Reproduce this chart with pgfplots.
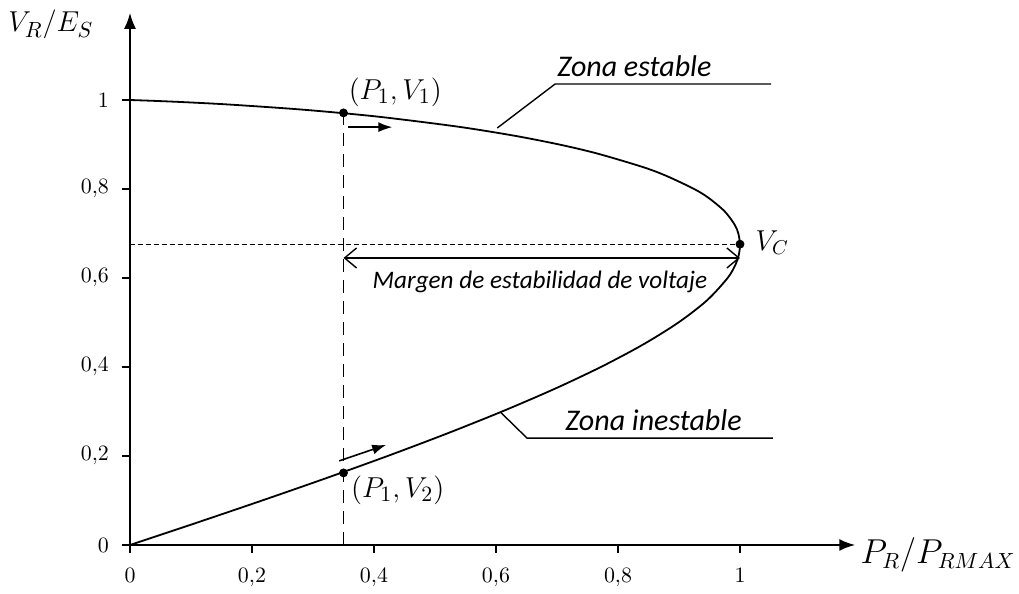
\documentclass[border=0pt]{standalone}
\usepackage{pgfplots}
\pgfplotsset{compat=1.18}
\usepackage{fontspec}
\setmainfont{Carlito}
\usetikzlibrary{arrows.meta}
\pgfplotstableread{
p V
0 0
0.1093 0.05
0.2166 0.10
0.3212 0.15
0.4223 0.20
0.5188 0.25
0.6099 0.30
0.6947 0.35
0.7719 0.40
0.8405 0.45
0.8991 0.50
0.9461 0.55
0.9797 0.60
0.9926 0.63
0.9977 0.65
1.0000 0.674
0.9973 0.70
0.9912 0.72
0.9747 0.75
0.9485 0.78
0.9248 0.80
0.8784 0.83
0.8392 0.85
0.7652 0.88
0.7035 0.90
0.6290 0.92
0.5379 0.94
0.4229 0.96
0.3521 0.97
0.2674 0.98
0.1601 0.99
0.0911 0.995
0.0404 0.998
0 1.0
}\curve
\begin{document}
\begin{tikzpicture}
\begin{axis}[
  x=305pt, y=222.5pt,
  xmin=0, xmax=1.189, ymin=0, ymax=1.196,
  axis lines=left,
  axis line style={line width=1pt, -{Latex[length=8pt,width=6pt]}},
  xtick={0,0.2,0.4,0.6,0.8,1},
  ytick={0,0.2,0.4,0.6,0.8,1},
  tick align=outside,
  major tick length=4pt,
  tick style={line width=1.3pt, black},
  xticklabel style={font=\fontsize{11}{12}\selectfont, yshift=-4pt},
  yticklabel style={font=\fontsize{11}{12}\selectfont, xshift=-3pt},
  /pgf/number format/use comma,
  clip=false,
]
\addplot[black, line width=0.9pt, smooth, tension=0.5] table[x=p, y=V] {\curve};
% dashed guides
\addplot[black, line width=0.85pt, dash pattern=on 6.5pt off 4pt] coordinates {(0.35,0) (0.35,0.971)};
\addplot[black, line width=0.6pt, dash pattern=on 2.5pt off 1.5pt] coordinates {(0,0.676) (1,0.676)};
% points
\addplot[only marks, mark=*, mark size=2pt, black] coordinates {(0.35,0.971) (0.35,0.162) (1,0.676)};
% margin arrow
\draw[line width=0.7pt, {Straight Barb[length=6pt,width=10pt]}-{Straight Barb[length=6pt,width=10pt]}] (axis cs:0.35,0.645) -- (axis cs:1.0,0.645);
\node[anchor=north, font=\fontsize{12.6}{14}\selectfont\itshape] at (axis cs:0.672,0.632) {Margen de estabilidad de voltaje};
% small arrows
\draw[line width=0.8pt, -{Latex[length=7pt,width=5pt]}] (axis cs:0.357,0.939) -- (axis cs:0.430,0.939);
\draw[line width=0.8pt, -{Latex[length=7pt,width=5pt]}] (axis cs:0.343,0.189) -- (axis cs:0.420,0.225);
% point labels
\node[anchor=west, font=\fontsize{15.5}{17}\selectfont, inner sep=0pt] at (axis cs:0.358,1.018) {$(P_1,V_1)$};
\node[anchor=west, font=\fontsize{15.5}{17}\selectfont, inner sep=0pt] at (axis cs:0.362,0.124) {$(P_1,V_2)$};
\node[anchor=west, font=\fontsize{14.5}{16}\selectfont, inner sep=0pt] at (axis cs:1.025,0.679) {$V_C$};
% zone leaders
\draw[line width=0.7pt] (axis cs:0.602,0.937) -- (axis cs:0.697,1.036) -- (axis cs:1.051,1.036);
\node[anchor=base west, font=\fontsize{15}{17}\selectfont\itshape, inner sep=0pt] at (axis cs:0.700,1.052) {Zona estable};
\draw[line width=0.7pt] (axis cs:0.607,0.299) -- (axis cs:0.651,0.240) -- (axis cs:1.054,0.240);
\node[anchor=base west, font=\fontsize{15}{17}\selectfont\itshape, inner sep=0pt] at (axis cs:0.713,0.258) {Zona inestable};
% axis labels
\node[anchor=west, font=\fontsize{15.5}{17}\selectfont, inner sep=0pt] at (axis cs:-0.2,1.169) {$V_R/E_S$};
\node[anchor=west, font=\fontsize{16.2}{18}\selectfont, inner sep=0pt] at (axis cs:1.197,-0.022) {$P_R/P_{RMAX}$};
\coordinate (bl) at (axis cs:-0.2131,-0.1079);
\coordinate (tr) at (axis cs:1.4574,1.2247);
\end{axis}
\pgfresetboundingbox
\path[use as bounding box] (bl) rectangle (tr);
\end{tikzpicture}
\end{document}
